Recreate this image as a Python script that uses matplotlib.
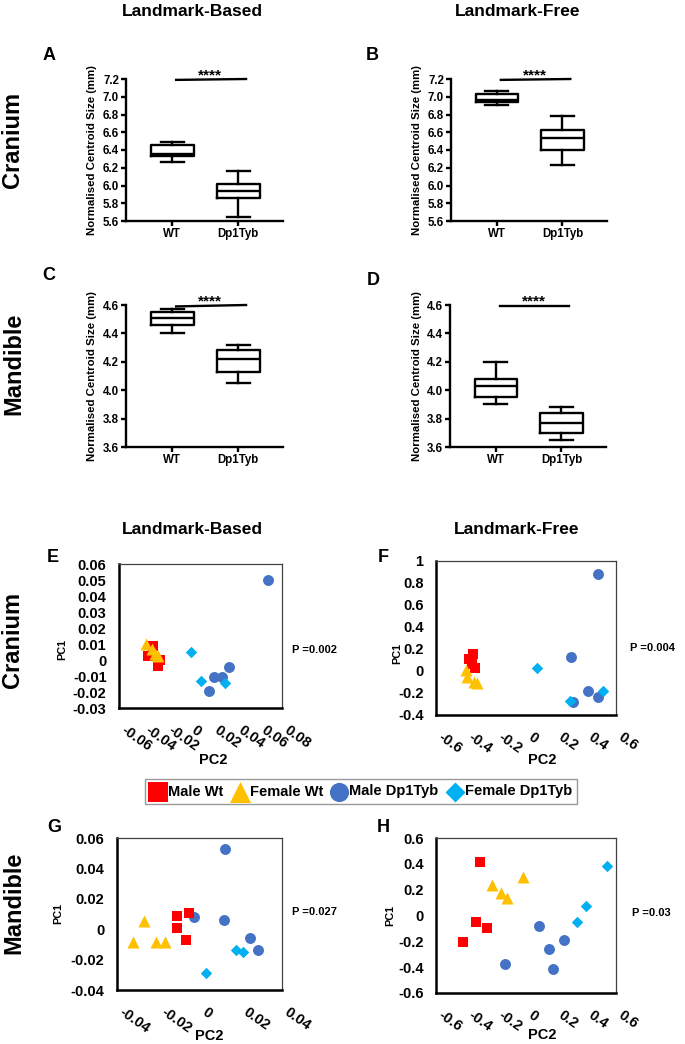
import matplotlib
matplotlib.use("Agg")
import matplotlib.pyplot as plt

plt.rcParams['font.family'] = ['Liberation Sans', 'DejaVu Sans']
plt.rcParams['font.weight'] = 'bold'

# ---------------- data ----------------
groups = ["WT", "Dp1Tyb"]

# box plot summaries (whislo, q1, med, q3, whishi) for WT, Dp1Tyb
A_lo = [6.26, 5.65]; A_q1 = [6.33, 5.86]; A_med = [6.36, 5.94]; A_q3 = [6.46, 6.02]; A_hi = [6.49, 6.16]
B_lo = [6.91, 6.23]; B_q1 = [6.94, 6.40]; B_med = [6.96, 6.54]; B_q3 = [7.03, 6.62]; B_hi = [7.07, 6.78]
C_lo = [4.40, 4.05]; C_q1 = [4.46, 4.13]; C_med = [4.51, 4.22]; C_q3 = [4.55, 4.28]; C_hi = [4.57, 4.32]
D_lo = [3.90, 3.65]; D_q1 = [3.95, 3.70]; D_med = [4.03, 3.77]; D_q3 = [4.08, 3.84]; D_hi = [4.20, 3.88]

box_yticks_cranium = [5.6, 5.8, 6.0, 6.2, 6.4, 6.6, 6.8, 7.0, 7.2]
box_yticks_mandible = [3.6, 3.8, 4.0, 4.2, 4.4, 4.6]

series_names = ["Male Wt", "Female Wt", "Male Dp1Tyb", "Female Dp1Tyb"]

# Panel E (Cranium, landmark-based): PC2 (x), PC1 (y)
E_mwt_x = [-0.0310, -0.0348, -0.0247, -0.0267]
E_mwt_y = [0.0090, 0.0022, -0.0003, -0.0039]
E_fwt_x = [-0.0370, -0.0313, -0.0290, -0.0261]
E_fwt_y = [0.0100, 0.0069, 0.0038, 0.0028]
E_mdp_x = [0.0677, 0.0341, 0.0284, 0.0212, 0.0175]
E_mdp_y = [0.0500, -0.0044, -0.0105, -0.0109, -0.0193]
E_fdp_x = [0.0017, 0.0106, 0.0312]
E_fdp_y = [0.0049, -0.0132, -0.0146]

# Panel F (Cranium, landmark-free)
F_mwt_x = [-0.356, -0.378, -0.362, -0.340]
F_mwt_y = [0.154, 0.106, 0.060, 0.024]
F_fwt_x = [-0.402, -0.396, -0.344, -0.329]
F_fwt_y = [0.009, -0.050, -0.097, -0.110]
F_mdp_x = [0.478, 0.300, 0.411, 0.478, 0.311]
F_mdp_y = [0.885, 0.130, -0.180, -0.240, -0.278]
F_fdp_x = [0.071, 0.516, 0.293]
F_fdp_y = [0.024, -0.178, -0.269]

# Panel G (Mandible, landmark-based)
G_mwt_x = [-0.0107, -0.0053, -0.0109, -0.0067]
G_mwt_y = [0.0088, 0.0105, 0.0007, -0.0070]
G_fwt_x = [-0.0267, -0.0324, -0.0211, -0.0169]
G_fwt_y = [0.0051, -0.0081, -0.0081, -0.0081]
G_mdp_x = [0.0125, -0.0028, 0.0117, 0.0243, 0.0284]
G_mdp_y = [0.0527, 0.0079, 0.0062, -0.0055, -0.0140]
G_fdp_x = [0.0175, 0.0211, 0.0030]
G_fdp_y = [-0.0140, -0.0152, -0.0286]

# Panel H (Mandible, landmark-free)
H_mwt_x = [-0.307, -0.333, -0.262, -0.422]
H_mwt_y = [0.413, -0.048, -0.100, -0.204]
H_fwt_x = [-0.229, -0.169, -0.129, -0.022]
H_fwt_y = [0.237, 0.172, 0.133, 0.297]
H_mdp_x = [0.087, 0.153, 0.253, 0.178, -0.140]
H_mdp_y = [-0.082, -0.263, -0.190, -0.416, -0.372]
H_fdp_x = [0.542, 0.398, 0.342]
H_fdp_y = [0.387, 0.076, -0.048]

E_xticks = [-0.06, -0.04, -0.02, 0, 0.02, 0.04, 0.06, 0.08]
E_xlabels = ["-0.06", "-0.04", "-0.02", "0", "0.02", "0.04", "0.06", "0.08"]
E_yticks = [-0.03, -0.02, -0.01, 0, 0.01, 0.02, 0.03, 0.04, 0.05, 0.06]
E_ylabels = ["-0.03", "-0.02", "-0.01", "0", "0.01", "0.02", "0.03", "0.04", "0.05", "0.06"]
F_xticks = [-0.6, -0.4, -0.2, 0, 0.2, 0.4, 0.6]
F_xlabels = ["-0.6", "-0.4", "-0.2", "0", "0.2", "0.4", "0.6"]
F_yticks = [-0.4, -0.2, 0, 0.2, 0.4, 0.6, 0.8, 1.0]
F_ylabels = ["-0.4", "-0.2", "0", "0.2", "0.4", "0.6", "0.8", "1"]
G_xticks = [-0.04, -0.02, 0, 0.02, 0.04]
G_xlabels = ["-0.04", "-0.02", "0", "0.02", "0.04"]
G_yticks = [-0.04, -0.02, 0, 0.02, 0.04, 0.06]
G_ylabels = ["-0.04", "-0.02", "0", "0.02", "0.04", "0.06"]
H_xticks = [-0.6, -0.4, -0.2, 0, 0.2, 0.4, 0.6]
H_xlabels = ["-0.6", "-0.4", "-0.2", "0", "0.2", "0.4", "0.6"]
H_yticks = [-0.6, -0.4, -0.2, 0, 0.2, 0.4, 0.6]
H_ylabels = ["-0.6", "-0.4", "-0.2", "0", "0.2", "0.4", "0.6"]

p_values = ["P =0.002", "P =0.004", "P =0.027", "P =0.03"]

# ---------------- layout helpers ----------------
W, H = 685, 1044
fig = plt.figure(figsize=(W / 100, H / 100), dpi=100)
fig.patch.set_facecolor('white')


def rect(l, t, r, b):
    return [l / W, 1 - b / H, (r - l) / W, (b - t) / H]


def ftext(x, y, s, **kw):
    return fig.text(x / W, 1 - y / H, s, **kw)


LW = 1.7


def boxpanel(r, lo, q1, med, q3, hi, ylim, yticks, sig_y, sig_y_left):
    ax = fig.add_axes(rect(*r))
    stats = []
    for i in range(2):
        stats.append(dict(whislo=lo[i], q1=q1[i], med=med[i], q3=q3[i],
                          whishi=hi[i], fliers=[], label=groups[i]))
    lp = dict(color='black', linewidth=LW)
    ax.bxp(stats, positions=[1, 2], widths=0.65, capwidths=0.35,
           showfliers=False, boxprops=lp, whiskerprops=lp, capprops=lp,
           medianprops=lp)
    ax.set_xlim(0.3, 2.68)
    ax.set_ylim(*ylim)
    ax.set_yticks(yticks)
    ax.set_yticklabels(["%.1f" % v for v in yticks])
    ax.set_xticks([1, 2])
    ax.set_xticklabels(groups)
    for s in ['top', 'right']:
        ax.spines[s].set_visible(False)
    for s in ['left', 'bottom']:
        ax.spines[s].set_linewidth(LW)
    ax.tick_params(axis='both', width=LW, length=3.5, labelsize=8.3, pad=1.5)
    for lab in ax.get_xticklabels() + ax.get_yticklabels():
        lab.set_fontweight('bold')
    ax.plot([1.06, 2.12], [sig_y_left, sig_y], color='black', lw=LW,
            clip_on=False)
    ax.text(1.58, sig_y, "****", ha='center', va='baseline', fontsize=11,
            fontweight='bold')
    return ax


boxpanel((126, 79, 283, 221), A_lo, A_q1, A_med, A_q3, A_hi, (5.6, 7.2),
         box_yticks_cranium, 7.2, 7.19)
boxpanel((451, 79, 607, 221), B_lo, B_q1, B_med, B_q3, B_hi, (5.6, 7.2),
         box_yticks_cranium, 7.2, 7.19)
boxpanel((126, 305, 283, 447), C_lo, C_q1, C_med, C_q3, C_hi, (3.6, 4.6),
         box_yticks_mandible, 4.6, 4.59)
boxpanel((450, 305, 606, 447), D_lo, D_q1, D_med, D_q3, D_hi, (3.6, 4.6),
         box_yticks_mandible, 4.595, 4.595)

# y labels of box plots
for x, y in [(92, 150), (417, 150), (92, 376), (417, 376)]:
    ftext(x, y, "Normalised Centroid Size (mm)", rotation=90, ha='center',
          va='center', fontsize=8.2, fontweight='bold')

# ---------------- scatter panels ----------------
C_MWT = '#FF0000'
C_FWT = '#FFC000'
C_MDP = '#4472C4'
C_FDP = '#00B0F0'


def scatpanel(r, mwt, fwt, mdp, fdp, xlim, ylim, xt, xl, yt, yl):
    ax = fig.add_axes(rect(*r))
    h3 = ax.scatter(mdp[0], mdp[1], marker='o', s=62, color=C_MDP, zorder=3,
                    linewidths=0, label=series_names[2])
    h4 = ax.scatter(fdp[0], fdp[1], marker='D', s=34, color=C_FDP, zorder=4,
                    linewidths=0, label=series_names[3])
    h1 = ax.scatter(mwt[0], mwt[1], marker='s', s=62, color=C_MWT, zorder=5,
                    linewidths=0, label=series_names[0])
    h2 = ax.scatter(fwt[0], fwt[1], marker='^', s=75, color=C_FWT, zorder=6,
                    linewidths=0, label=series_names[1])
    ax.set_xlim(*xlim)
    ax.set_ylim(*ylim)
    ax.set_xticks(xt)
    ax.set_xticklabels(xl, rotation=-35, ha='left', va='top',
                       rotation_mode='default')
    ax.set_yticks(yt)
    ax.set_yticklabels(yl)
    ax.tick_params(axis='both', length=0, labelsize=10.5)
    ax.tick_params(axis='y', pad=9)
    ax.tick_params(axis='x', pad=11)
    for lab in ax.get_xticklabels() + ax.get_yticklabels():
        lab.set_fontweight('bold')
    for s in ['left', 'bottom']:
        ax.spines[s].set_linewidth(1.8)
        ax.spines[s].set_color('black')
    for s in ['top', 'right']:
        ax.spines[s].set_linewidth(0.9)
        ax.spines[s].set_color('#404040')
    return ax, [h1, h2, h3, h4]


axE, handles = scatpanel((119, 564, 282, 708), (E_mwt_x, E_mwt_y),
                         (E_fwt_x, E_fwt_y), (E_mdp_x, E_mdp_y),
                         (E_fdp_x, E_fdp_y), (-0.06, 0.08), (-0.03, 0.06),
                         E_xticks, E_xlabels, E_yticks, E_ylabels)
scatpanel((436, 561, 616, 715), (F_mwt_x, F_mwt_y), (F_fwt_x, F_fwt_y),
          (F_mdp_x, F_mdp_y), (F_fdp_x, F_fdp_y), (-0.6, 0.6), (-0.4, 1.0),
          F_xticks, F_xlabels, F_yticks, F_ylabels)
scatpanel((117, 838, 282, 990), (G_mwt_x, G_mwt_y), (G_fwt_x, G_fwt_y),
          (G_mdp_x, G_mdp_y), (G_fdp_x, G_fdp_y), (-0.04, 0.04), (-0.04, 0.06),
          G_xticks, G_xlabels, G_yticks, G_ylabels)
scatpanel((436, 838, 616, 993), (H_mwt_x, H_mwt_y), (H_fwt_x, H_fwt_y),
          (H_mdp_x, H_mdp_y), (H_fdp_x, H_fdp_y), (-0.6, 0.6), (-0.6, 0.6),
          H_xticks, H_xlabels, H_yticks, H_ylabels)

# PC axis labels
for x, y in [(62, 650), (397, 653), (58, 913), (390, 915)]:
    ftext(x, y, "PC1", rotation=90, ha='center', va='center', fontsize=7.8,
          fontweight='bold')
for x, y in [(213, 760), (542, 760), (209, 1036), (542, 1035)]:
    ftext(x, y, "PC2", ha='center', va='center', fontsize=10.5,
          fontweight='bold')

# P values
for (x, y), p in zip([(292, 650), (630, 648), (292, 912), (632, 913)],
                     p_values):
    ftext(x, y, p, ha='left', va='center', fontsize=8, fontweight='bold')

# legend
leg = fig.legend(handles=handles, labels=series_names, loc='center',
                 bbox_to_anchor=(361 / W, 1 - 791.5 / H), ncol=4,
                 frameon=True, fancybox=False, edgecolor='#808080',
                 markerscale=1.75, handlelength=1.1, handletextpad=0.15,
                 columnspacing=0.55, borderpad=0.35, borderaxespad=0,
                 prop=dict(size=10.5, weight='bold'))
leg.get_frame().set_linewidth(1.0)

# headers, row labels, panel letters
ftext(192, 12, "Landmark-Based", ha='center', va='center', fontsize=12.5,
      fontweight='bold')
ftext(518, 12, "Landmark-Free", ha='center', va='center', fontsize=12.5,
      fontweight='bold')
ftext(192, 530, "Landmark-Based", ha='center', va='center', fontsize=12.5,
      fontweight='bold')
ftext(517, 530, "Landmark-Free", ha='center', va='center', fontsize=12.5,
      fontweight='bold')

for y in [140, 640]:
    ftext(13, y, "Cranium", rotation=90, ha='center', va='center',
          fontsize=17, fontweight='bold')
for y in [364, 903]:
    ftext(14, y, "Mandible", rotation=90, ha='center', va='center',
          fontsize=17, fontweight='bold')

for s, (x, y) in zip("ABCDEFGH", [(49, 55), (372, 55), (49, 275), (373, 281),
                                  (53, 558), (383, 558), (54, 827),
                                  (383, 827)]):
    ftext(x, y, s, ha='center', va='center', fontsize=13, fontweight='bold')

fig.savefig("out.png", dpi=100, facecolor='white')
